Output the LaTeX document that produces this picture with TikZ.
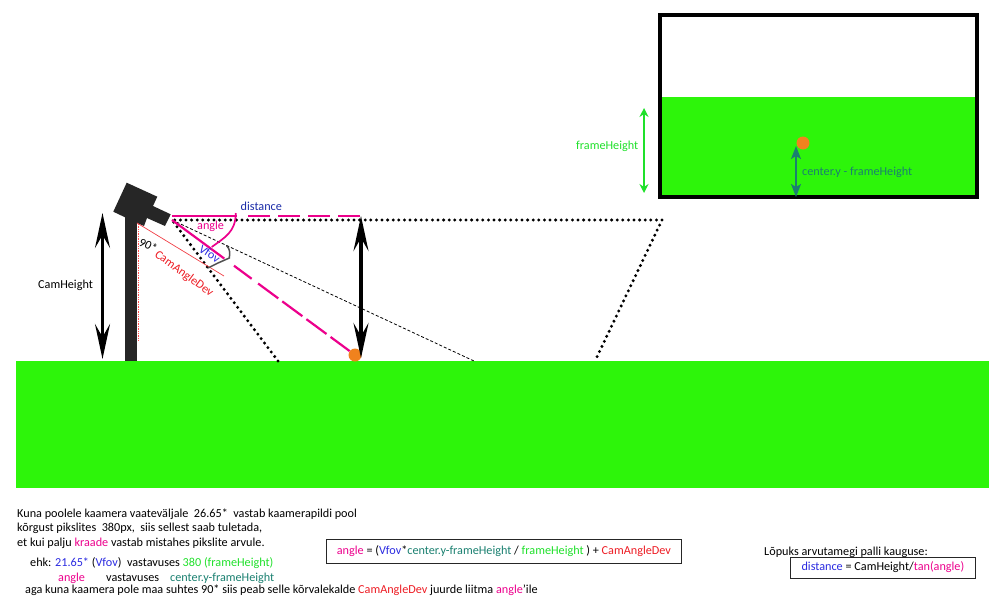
\documentclass[tikz,border=0pt]{standalone}
\usepackage{fontspec}
\setmainfont{Carlito}
\usetikzlibrary{arrows.meta}
\definecolor{grass}{HTML}{2DF50A}
\definecolor{mag}{HTML}{EC008C}
\definecolor{navy}{HTML}{1B2CA8}
\definecolor{vblue}{HTML}{2A2AE0}
\definecolor{tealc}{HTML}{1A8070}
\definecolor{ballc}{HTML}{F0821E}
\definecolor{darkc}{HTML}{262626}
\definecolor{redc}{HTML}{ED1C24}
\definecolor{lime}{HTML}{1FE02A}
\tikzset{
  txt/.style={inner sep=0pt, anchor=base west, font=\fontsize{12.2}{14}\selectfont},
  fov/.style={line width=3.3pt, dash pattern=on 0pt off 5.6pt, line cap=round},
  bigarrow/.style={{Stealth[length=35pt,width=15pt,inset=13pt]}-{Stealth[length=35pt,width=15pt,inset=13pt]}, line width=3.5pt},
  boxed/.style={draw=darkc, line width=0.8pt, inner xsep=4pt}
}
\begin{document}
\begin{tikzpicture}[x=1pt,y=-1pt]
\useasboundingbox (0,0) rectangle (1000,600);
\fill[grass] (16,361) rectangle (989,488);
\fill[grass] (660,97) rectangle (977,197);
\draw[line width=4pt] (660,15) rectangle (977,197);
\fill[darkc] (125,216) rectangle (137,361);
\fill[darkc] (126.7,182.7) -- (157.3,196.7) -- (153,206) -- (170.7,214.3) -- (165,226) -- (147,218) -- (144,226) -- (137,223) -- (113.3,211.7) -- cycle;
\draw[red!70, densely dotted, line width=0.7pt] (138,224) -- (138,341);

\coordinate (camera) at (172,220);
\coordinate (farcorner) at (662,220);
\coordinate (farfoot) at (595,361);
\coordinate (nearfoot) at (278,361);
\coordinate (midfoot) at (474,361);
\coordinate (top) at (361,216);
\coordinate (bottom) at (361,358);
\coordinate (camtop) at (102.5,213);
\coordinate (cambottom) at (102.5,359);
\coordinate (distend) at (360,215.7);
\coordinate (diststart) at (172,215.7);
\node[circle, fill=ballc, inner sep=0pt, minimum size=13pt] (ball) at (355,355) {};
\node[circle, fill=ballc, inner sep=0pt, minimum size=13pt] (frameball) at (803,143) {};

\draw[fov] (nearfoot) -- (camera) -- (farcorner) -- (farfoot);
\draw[densely dashed, line width=0.8pt] (camera) -- (midfoot);
\draw[bigarrow] (top) -- (bottom);
\draw[bigarrow] (camtop) -- (cambottom);
\draw[mag, line width=2.2pt, dash pattern=on 65pt off 11pt on 22pt off 8pt on 22pt off 8pt on 22pt off 8pt on 30pt] (diststart) -- (distend);
\draw[mag, line width=2.2pt, dash pattern=on 65pt off 12pt on 22pt off 8pt on 25pt off 5pt on 25pt off 5pt on 25pt off 5pt on 40pt] (camera) -- (ball);
\draw[redc!85, line width=0.7pt] (137,223) -- (224,276);
\draw[mag, line width=1.7pt] (235.7,213) .. controls (236,232) and (224,238) .. (211.7,247);
\draw[darkc!80, line width=1.5pt] (226.7,246) .. controls (230,248) and (230,254) .. (229.3,258) -- (218,263) -- (208,268);

\coordinate (greentop) at (644,108);
\coordinate (greenbottom) at (644,193);
\coordinate (tealtop) at (796,146);
\coordinate (tealbottom) at (796,197);
\draw[{Stealth[length=9pt,width=9pt,inset=3pt]}-{Stealth[length=9pt,width=9pt,inset=3pt]}, lime, line width=1.6pt] (greentop) -- (greenbottom);
\draw[{Stealth[length=13pt,width=10pt,inset=3pt]}-{Stealth[length=13pt,width=10pt,inset=3pt]}, tealc, line width=1.6pt] (tealtop) -- (tealbottom);

\node[txt] (distlabel) at (240.5,210) {\textcolor{navy}{distance}};
\node[txt] (anglelabel) at (197,229) {\textcolor{mag}{angle}};
\node[txt] (camheight) at (38,288) {CamHeight};
\node[txt, rotate=-25] (ninety) at (138,245) {90*};
\node[txt, rotate=-36] (devlabel) at (154,256) {\textcolor{redc}{CamAngleDev}};
\node[txt, rotate=-33] (vfovlabel) at (198,251) {\textcolor{vblue}{Vfov}};
\node[txt] (framelabel) at (576,149) {\textcolor{lime}{frameHeight}};
\node[txt] (centerlabel) at (802,175) {\textcolor{tealc}{center.y - frameHeight}};

\node[txt] (line1) at (17,517) {Kuna poolele kaamera vaateväljale\ \ 26.65*\ \ vastab kaamerapildi pool};
\node[txt] (line2) at (17,531) {kõrgust pikslites\ \ 380px,\ \ siis sellest saab tuletada,};
\node[txt] (line3) at (17,546) {et kui palju \textcolor{mag}{kraade} vastab mistahes pikslite arvule.};
\node[txt] (line4) at (30,566.5) {ehk: \textcolor{vblue}{21.65*} (\textcolor{vblue}{Vfov})\ \ vastavuses \textcolor{lime}{380 (frameHeight)}};
\node[txt] (line5a) at (58,581) {\textcolor{mag}{angle}};
\node[txt] (line5b) at (106,581) {vastavuses};
\node[txt] (line5c) at (170,581) {\textcolor{tealc}{center.y-frameHeight}};
\node[txt] (line6) at (25,593) {aga kuna kaamera pole maa suhtes 90* siis peab selle kõrvalekalde \textcolor{redc}{CamAngleDev} juurde liitma \textcolor{mag}{angle}'ile};

\node[txt, boxed, anchor=west, minimum width=355pt, minimum height=24pt] (formula) at (326,551.5) {\textcolor{mag}{angle} = (\textcolor{vblue}{Vfov}*\textcolor{tealc}{center.y-frameHeight} / \textcolor{lime}{frameHeight} ) + \textcolor{redc}{CamAngleDev}};
\node[txt] (finish) at (764,555) {Lõpuks arvutamegi palli kauguse:};
\node[txt, boxed, anchor=west, minimum width=185pt, minimum height=21pt] (result) at (790,567.5) {\textcolor{vblue}{distance} = CamHeight/\textcolor{mag}{tan(angle)}};
\end{tikzpicture}
\end{document}
